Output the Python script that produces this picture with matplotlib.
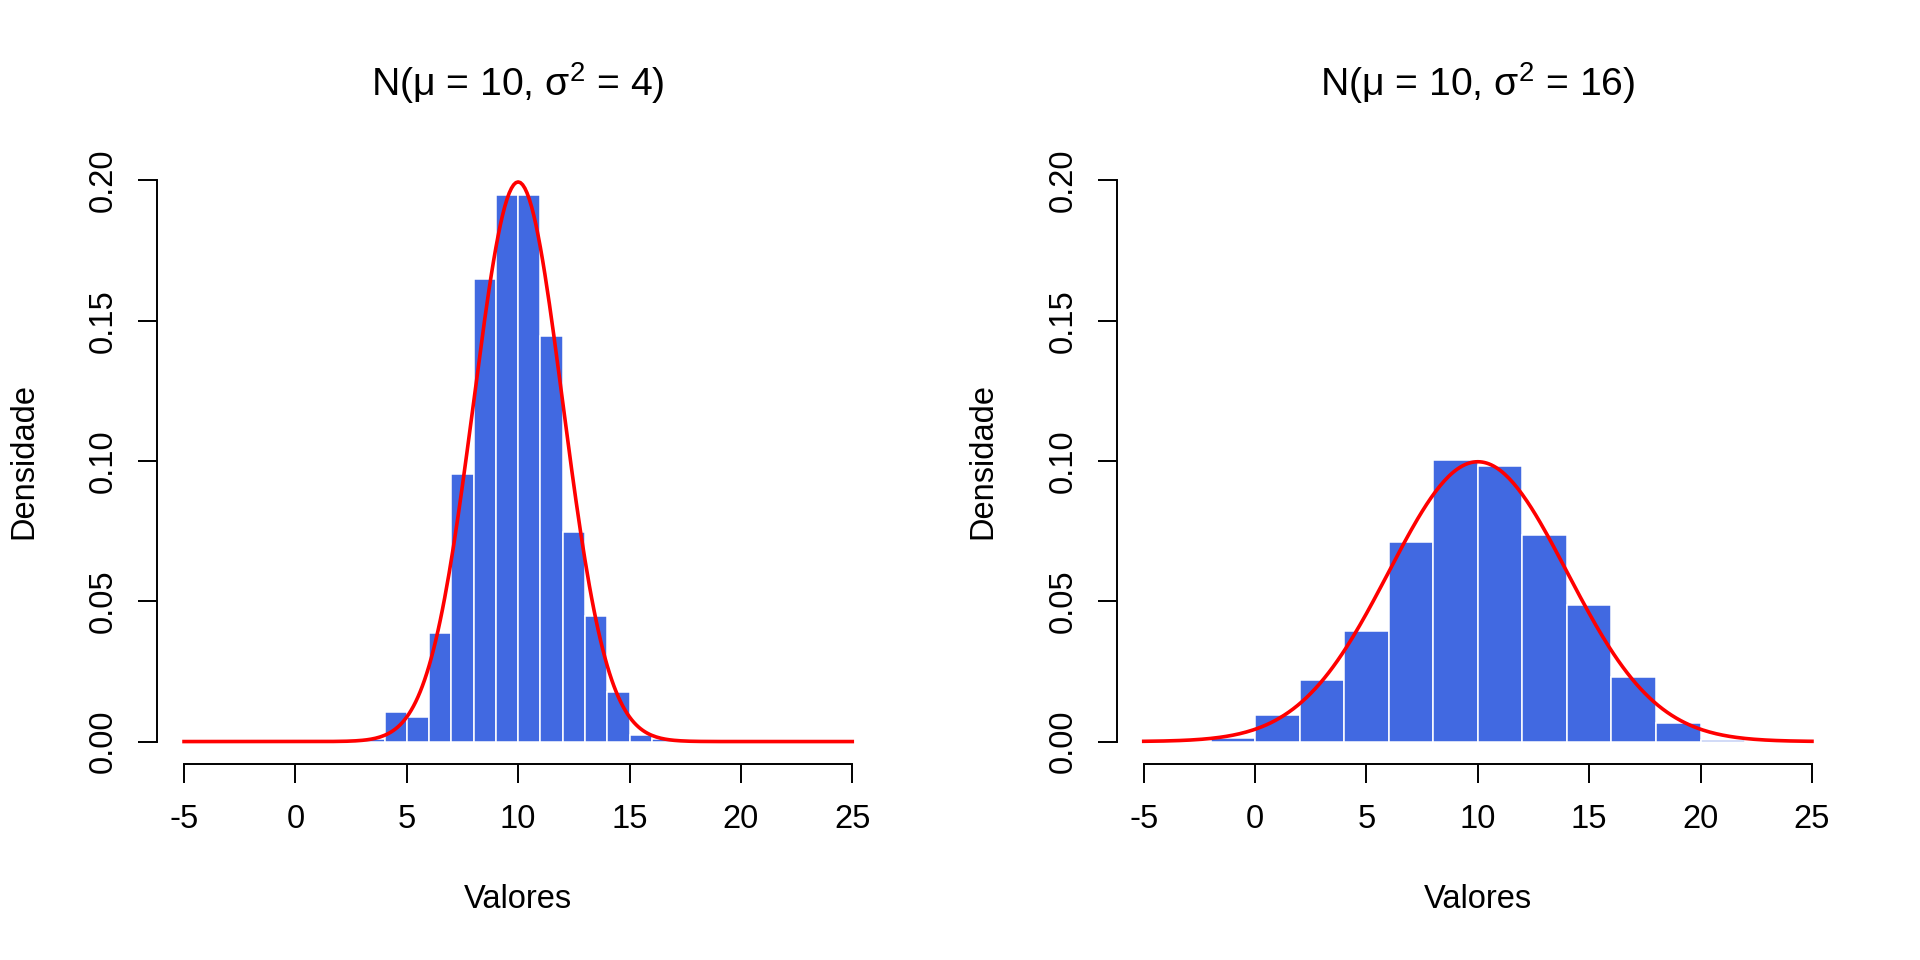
import matplotlib
matplotlib.use("Agg")
import matplotlib.pyplot as plt
import numpy as np

plt.rcParams['font.family'] = ['Liberation Sans', 'DejaVu Sans']
plt.rcParams['mathtext.fontset'] = 'custom'
plt.rcParams['mathtext.rm'] = 'Liberation Sans'
plt.rcParams['mathtext.it'] = 'Liberation Sans:italic'

# histogram bins and densities
edges_1 = [3, 4, 5, 6, 7, 8, 9, 10, 11, 12, 13, 14, 15, 16, 17]
dens_1 = [0.001, 0.0107, 0.0087, 0.0386, 0.0955, 0.1647, 0.1948, 0.1948,
          0.1446, 0.0746, 0.0447, 0.0177, 0.0022, 0.001]

edges_2 = [-2, 0, 2, 4, 6, 8, 10, 12, 14, 16, 18, 20, 22]
dens_2 = [0.0012, 0.0094, 0.0220, 0.0395, 0.0711, 0.1003, 0.0981, 0.0735,
          0.0486, 0.0231, 0.0065, 0.0004]

mu = 10
variances = [4, 16]
titles = [r"N(μ = 10, $\mathregular{σ^2}$ = 4)", r"N(μ = 10, $\mathregular{σ^2}$ = 16)"]

x_ticks = [-5, 0, 5, 10, 15, 20, 25]
x_labels = ["-5", "0", "5", "10", "15", "20", "25"]
y_ticks = [0.00, 0.05, 0.10, 0.15, 0.20]
y_labels = ["0.00", "0.05", "0.10", "0.15", "0.20"]

W, H = 1920, 960
fig = plt.figure(figsize=(W / 100, H / 100), dpi=100)

ax_w = 721.7 / W
ax_h = 606 / H
bottom = 1 - 764 / H
lefts = [157.3 / W, 1117 / W]

data = [(edges_1, dens_1), (edges_2, dens_2)]

for i in range(2):
    ax = fig.add_axes([lefts[i], bottom, ax_w, ax_h])
    edges, dens = data[i]
    edges = np.array(edges, dtype=float)
    ax.bar(edges[:-1], dens, width=np.diff(edges), align='edge',
           color='#4169E1', edgecolor='white', linewidth=1.1, zorder=2)

    # theoretical density curve
    xs = np.linspace(-5, 25, 301)
    s2 = variances[i]
    ys = np.exp(-(xs - mu) ** 2 / (2 * s2)) / np.sqrt(2 * np.pi * s2)
    ax.plot(xs, ys, color='red', lw=2.6, zorder=3)

    ax.set_xlim(-6.2, 26.2)
    ax.set_ylim(-0.008, 0.208)

    for side in ['top', 'right']:
        ax.spines[side].set_visible(False)
    ax.spines['left'].set_bounds(0, 0.2)
    ax.spines['bottom'].set_bounds(-5, 25)
    for side in ['left', 'bottom']:
        ax.spines[side].set_linewidth(1.4)

    ax.set_xticks(x_ticks)
    ax.set_xticklabels(x_labels)
    ax.set_yticks(y_ticks)
    ax.set_yticklabels(y_labels)
    ax.tick_params(axis='both', length=14, width=1.4, labelsize=23.5)
    ax.tick_params(axis='x', pad=15)
    ax.tick_params(axis='y', pad=13.5, labelrotation=90)
    for lab in ax.get_yticklabels():
        lab.set_va('center')

    ax.set_xlabel("Valores", fontsize=23.5)
    ax.xaxis.label.set_va('center')
    ax.xaxis.set_label_coords(0.5, -(900 - 764) / 606)
    ax.set_ylabel("Densidade", fontsize=23.5)
    ax.yaxis.label.set_va('center')
    ax.yaxis.set_label_coords((23.5 - 157.3) / 721.7, 0.5)

    ax.text(0.5, (764 - 83) / 606, titles[i], transform=ax.transAxes,
            ha='center', va='center', fontsize=28.2)

fig.savefig("out.png", dpi=100)
